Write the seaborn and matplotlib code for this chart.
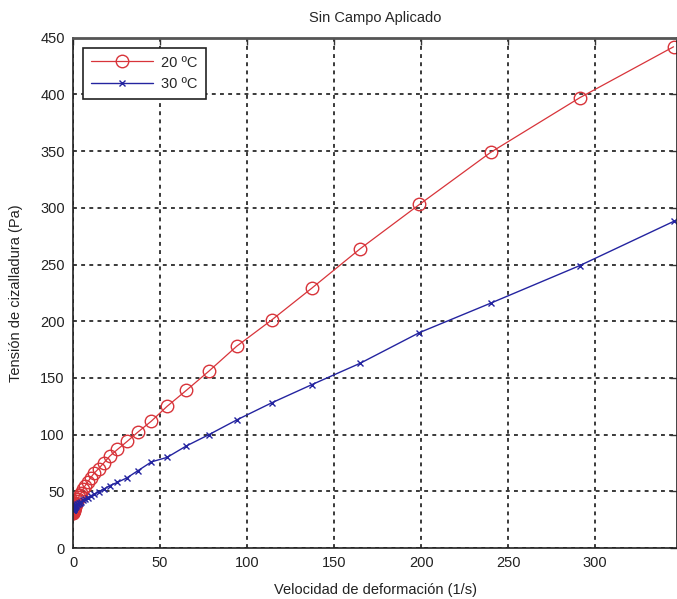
import numpy as np
import pandas as pd
import matplotlib
matplotlib.use("Agg")
import matplotlib.pyplot as plt
import seaborn as sns

# ---- data ----
shear_rate = [345, 291, 240, 199, 165, 137, 114, 94, 78, 65, 54, 45, 37, 31,
              25.5, 21, 17.6, 14.6, 12.1, 10, 8.3, 6.9, 5.7, 4.7, 3.9, 3.2,
              2.7, 2.2, 1.8, 1.5, 1.25, 1.0, 0.85, 0.7, 0.58, 0.48, 0.4,
              0.33, 0.27, 0.22, 0.18, 0.15, 0.12, 0.1]
stress_20 = [442, 397, 349, 303, 264, 229, 201, 178, 156, 139, 125, 112, 102, 94,
             87, 81, 75, 70, 66, 62, 58, 55, 52, 49, 47, 45,
             43, 41.5, 40, 39, 38, 37, 36, 35.5, 35, 34.5, 34,
             33.5, 33, 32.5, 32, 31.5, 31, 30.5]
stress_30 = [288, 249, 216, 190, 163, 144, 128, 113, 100, 90, 80, 76, 68, 62,
             58, 55, 52, 49.5, 47.5, 46, 44.5, 43, 42, 41, 40, 39.5,
             39, 38.5, 38, 37.5, 37, 36.5, 36, 35.8, 35.5, 35.2, 35,
             34.8, 34.5, 34.3, 34, 33.8, 33.5, 33.3]
series_labels = ["20 ºC", "30 ºC"]
title = "Sin Campo Aplicado"
xlabel = "Velocidad de deformación (1/s)"
ylabel = "Tensión de cizalladura (Pa)"
xticks = [0, 50, 100, 150, 200, 250, 300]
yticks = [0, 50, 100, 150, 200, 250, 300, 350, 400, 450]

sns.set_style("white")
plt.rcParams["font.family"] = ["Liberation Sans", "DejaVu Sans"]

fig = plt.figure(figsize=(6.77, 5.99), dpi=100)
ax = fig.add_axes([0.108, 0.085, 0.892, 0.852])

df20 = pd.DataFrame({"x": shear_rate, "y": stress_20})
df30 = pd.DataFrame({"x": shear_rate, "y": stress_30})

sns.lineplot(data=df20, x="x", y="y", ax=ax, sort=False, estimator=None,
             color="#d8343a", linewidth=0.9, marker="o", markersize=9,
             markerfacecolor="none", markeredgecolor="#d8343a",
             markeredgewidth=1.0, label=series_labels[0])
sns.lineplot(data=df30, x="x", y="y", ax=ax, sort=False, estimator=None,
             color="#2424a0", linewidth=1.0, marker="x", markersize=5,
             markeredgecolor="#2424a0", markeredgewidth=1.0,
             label=series_labels[1])

ax.set_xlim(0, 347)
ax.set_ylim(0, 450)
ax.set_xticks(xticks)
ax.set_yticks(yticks)
ax.tick_params(direction="in", length=5, width=1, top=True, right=True,
               labelsize=10.5, colors="#333333", labelcolor="#222222", pad=6)
ax.grid(True, color="#3a3a3a", linestyle=(0, (2, 2.2)), linewidth=1.4)
for s in ax.spines.values():
    s.set_color("#222222")
    s.set_linewidth(1.2)
ax.spines["top"].set_color("#555555")
ax.spines["top"].set_linewidth(2)

ax.set_title(title, fontsize=10.5, pad=11)
ax.set_xlabel(xlabel, fontsize=10.5, labelpad=9, color="#222222")
ax.set_ylabel(ylabel, fontsize=10.5, labelpad=12, color="#222222")

leg = ax.legend(loc="upper left", bbox_to_anchor=(0.005, 0.995), frameon=True,
                fancybox=False, edgecolor="#222222", framealpha=1,
                fontsize=10.5, handlelength=4.2, borderpad=0.55,
                labelspacing=0.5, handletextpad=0.6)
leg.get_frame().set_linewidth(1.2)

fig.savefig("out.png", dpi=100)
